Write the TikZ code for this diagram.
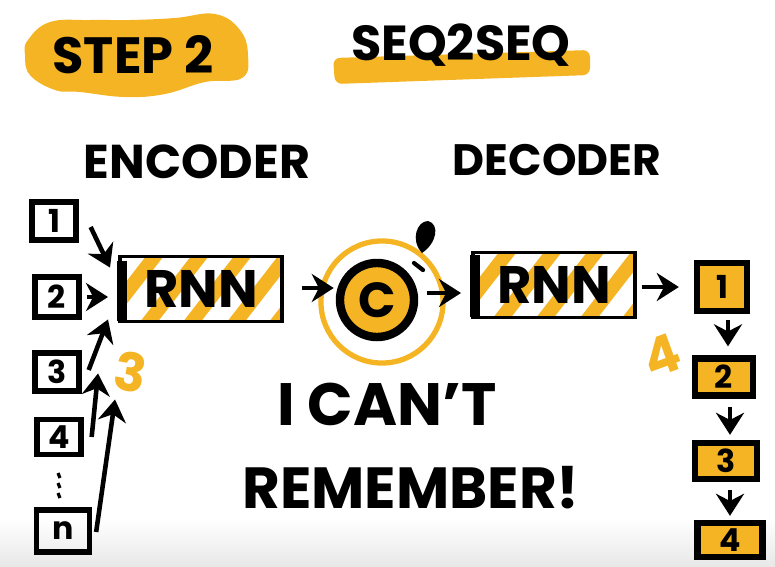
\documentclass[tikz,border=0pt]{standalone}
\usepackage{fontspec}
\setmainfont{Poppins}
\usetikzlibrary{
    arrows.meta,  % For arrow tips
    calc,         % For coordinate calculations
    positioning   % For label positioning
}
\definecolor{marker}{HTML}{F4B423}

\begin{document}
\begin{tikzpicture}[
    x=0.01cm, y=-0.01cm, % pixel-like units, y runs downwards
    >={Stealth[length=2.2mm, width=2.8mm]}, % Set default arrow tip style
    arr/.style={->, line width=1.3pt},      % Style for connectors
    hand/.style={font=\bfseries\fontsize{#1}{#1}\selectfont, inner sep=0pt},
    inbox/.style={draw, line width=1.5pt, inner sep=0pt,
        minimum width=0.44cm, minimum height=0.38cm,
        font=\bfseries\fontsize{9}{9}\selectfont},
    outbox/.style={inbox, fill=marker, line width=1.8pt,
        minimum width=0.58cm, minimum height=0.37cm},
    stripe/.style={marker, line width=0.14cm},
    % Box with yellow diagonal hatching behind its text
    rnnbox/.style={draw, line width=1.1pt, minimum width=1.62cm,
        minimum height=0.65cm, font=\bfseries\fontsize{15}{15}\selectfont,
        path picture={
            \foreach \s in {-22,23,66,110,152}
                \draw[stripe] ([shift={(\s,8)}]path picture bounding box.south west) -- ++(62,-80);
        }}
]
    \useasboundingbox (0,0) rectangle (775,566);
    \shade[top color=white, bottom color=black!9] (0,518) rectangle (775,566);

    % Title blob (adjust as needed)
    \def\coordsBlob{
        (28,40) (50,22) (90,20) (130,20) (175,18) (215,14) (240,30)
        (248,55) (242,78) (205,82) (165,94) (125,97) (80,92) (55,90)
        (30,75) (25,55)
    }
    \fill[marker] plot [smooth cycle, tension=0.7] coordinates {\coordsBlob};
    \node[hand=14.5] (steplbl) at (133,55) {STEP 2};

    % Underlined title
    \fill[marker, rounded corners=2pt] (333,58) -- (590,50) -- (590,75) -- (335,84) -- cycle;
    \node[hand=14] (seqlbl) at (461,45) {SEQ2SEQ};

    % Headings
    \node[hand=13.5] (enclbl) at (197,162) {ENCODER};
    \node[hand=12.5] (declbl) at (557,160) {DECODER};

    % Inputs
    \node[inbox] (in1) at (54,221) {1};
    \node[inbox, minimum height=0.40cm] (in2) at (57,297) {2};
    \node[inbox] (in3) at (57,372) {3};
    \node[inbox, minimum height=0.35cm] (in4) at (59,437) {4};
    \node[inbox, minimum width=0.53cm, minimum height=0.42cm] (inn) at (63,531) {n};
    \foreach \yy in {473,483,493}
        \draw[line width=0.9pt] (58,\yy) -- (60,\yy+5);

    % Encoder
    \node[rnnbox] (enc) at (201,289) {RNN};
    \draw[line width=2.6pt] ([shift={(4,6)}]enc.north west) -- ([shift={(4,-2)}]enc.south west);

    % Free ends of the input arrows
    \coordinate (tip1) at ([shift={(-8,13)}]enc.north west);
    \coordinate (tip2) at ([shift={(-10,8)}]enc.west);
    \coordinate (tip3) at ([shift={(-10,-4)}]enc.south west);
    \coordinate (tip4) at ([shift={(-20,50)}]enc.south west);
    \coordinate (tipn) at ([shift={(-3,76)}]enc.south west);
    \draw[arr] ([shift={(12,6)}]in1.east) -- (tip1);
    \draw[arr] ([shift={(5,0)}]in2.east) -- (tip2);
    \draw[arr] ([shift={(7,-2)}]in3.east) -- (tip3);
    \draw[arr] ([shift={(8,0)}]in4.east) -- (tip4);
    \draw[arr] ([shift={(4,1)}]inn.east) -- (tipn);
    \node[hand=15, text=marker, rotate=-10] (three) at (131,372) {3};

    % Context vector
    \node[circle, draw=marker, line width=1.5pt, minimum size=1.22cm] (ring) at (382,302) {};
    \node[circle, fill=marker, draw, line width=2.4pt, minimum size=0.74cm, hand=14] (ctx) at (377,300) {C};
    \fill (422,253) .. controls (410,240) and (417,221) .. (428,221)
        .. controls (440,224) and (437,243) .. (422,253) -- cycle;
    \draw[line width=1.2pt, line cap=round] (414,263) -- (423,270);
    \draw[arr] ([shift={(18,-1)}]enc.east) -- ([shift={(-2,-12)}]ctx.west);

    % Decoder
    \node[rnnbox] (dec) at (554,285) {RNN};
    \draw[line width=2.6pt] ([shift={(4,4)}]dec.north west) -- ([shift={(4,-2)}]dec.south west);
    \draw[arr] ([shift={(9,-7)}]ctx.east) -- ([shift={(-10,8)}]dec.west);

    % Outputs
    \node[outbox, minimum width=0.50cm, minimum height=0.48cm] (out1) at (722,287) {1};
    \node[outbox] (out2) at (724,377) {2};
    \node[outbox, minimum width=0.62cm, minimum height=0.36cm] (out3) at (726,461) {3};
    \node[outbox, minimum width=0.65cm, minimum height=0.34cm] (out4) at (730,540) {4};
    \draw[arr] ([shift={(5,2)}]dec.east) -- ([shift={(-15,0)}]out1.west);
    \draw[arr] ([shift={(6,6)}]out1.south) -- ([shift={(4,-9)}]out2.north);
    \draw[arr] ([shift={(6,8)}]out2.south) -- ([shift={(4,-5)}]out3.north);
    \draw[arr] ([shift={(4,8)}]out3.south) -- ([shift={(0,-4)}]out4.north);
    \node[hand=15, text=marker, rotate=20] (four) at (662,356) {4};

    % Caption
    \node[hand=17] (cant) at (387,404) {I CAN'T};
    \node[hand=16.5] (remember) at (411,488) {REMEMBER!};

\end{tikzpicture}
\end{document}
